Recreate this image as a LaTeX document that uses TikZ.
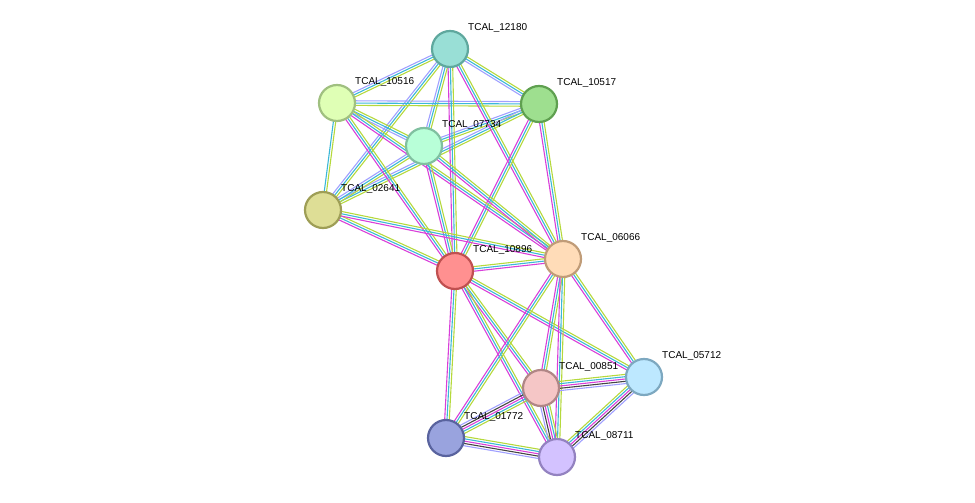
\documentclass[tikz,border=0pt]{standalone}
\usepackage{fontspec}
\setmainfont{Liberation Sans}
\usetikzlibrary{calc}
\definecolor{cmag}{HTML}{D93FD9}
\definecolor{ccyan}{HTML}{3CB8D8}
\definecolor{cyg}{HTML}{B5D93C}
\definecolor{clav}{HTML}{A0A0FF}
\definecolor{cblk}{HTML}{444444}
\newcommand\myedge[4]{%
  \foreach[count=\i] \c in {#4} {%
    \pgfmathsetmacro\o{(\i-(#3+1)/2)*2.3}
    \draw[\c,line width=1.1pt] ($(#1)!\o pt!90:(#2)$) -- ($(#2)!\o pt!-90:(#1)$);
  }}
\newcommand\prot[3]{%
  \definecolor{f#1}{HTML}{#2}\definecolor{d#1}{HTML}{#3}%
  \node[prot,fill=f#1,draw=d#1] (n#1) at (p#1) {};}
\begin{document}
\begin{tikzpicture}[x=1pt,y=-1pt,
  prot/.style={circle,minimum size=36pt,inner sep=0pt,line width=2.2pt},
  lab/.style={anchor=south west,font=\fontsize{10}{11}\selectfont,inner sep=0pt}]
\useasboundingbox (0,0) rectangle (975,503);
\coordinate (p12180) at (450,49);
\coordinate (p10517) at (539,104);
\coordinate (p10516) at (337,103);
\coordinate (p07734) at (424,146);
\coordinate (p02641) at (323,210);
\coordinate (p10896) at (455,271);
\coordinate (p06066) at (563,259);
\coordinate (p05712) at (644,377);
\coordinate (p00851) at (541,388);
\coordinate (p01772) at (446,438);
\coordinate (p08711) at (557,457);
% top cluster
\foreach \a/\b in {p12180/p10516,p12180/p10517,p12180/p07734,p12180/p02641,p10517/p10516,p10517/p07734,p10517/p02641,p10516/p07734,p07734/p02641}
  {\myedge{\a}{\b}{3}{clav,ccyan,cyg}}
\myedge{p10516}{p02641}{2}{ccyan,cyg}
% to 10896 / 06066
\foreach \a/\b in {p12180/p10896,p12180/p06066,p10517/p10896,p10517/p06066,p10516/p10896,p10516/p06066,p07734/p10896,p07734/p06066,p02641/p10896,p02641/p06066,p10896/p06066,p10896/p00851,p10896/p01772,p10896/p08711,p10896/p05712,p06066/p00851,p06066/p01772,p06066/p08711,p06066/p05712}
  {\myedge{\a}{\b}{3}{cmag,ccyan,cyg}}
% bottom cluster
\foreach \a/\b in {p00851/p01772,p00851/p08711,p00851/p05712,p01772/p08711,p08711/p05712}
  {\myedge{\a}{\b}{5}{clav,cblk,cmag,ccyan,cyg}}
% nodes
\prot{12180}{99DFD6}{5FA89E}
\prot{10517}{9EDF8F}{5FA050}
\prot{10516}{DFFFB5}{A0C080}
\prot{07734}{B8FFD8}{80C0A0}
\prot{02641}{DEDE96}{9E9E56}
\prot{10896}{FF9090}{C05050}
\prot{06066}{FFDCB8}{C09C78}
\prot{05712}{BDE8FF}{7DA8C0}
\prot{00851}{F5C6C6}{B08686}
\prot{01772}{99A3DE}{59639E}
\prot{08711}{D3C2FF}{9382C0}
% labels
\foreach \n/\t in {12180/TCAL\_12180,10517/TCAL\_10517,10516/TCAL\_10516,07734/TCAL\_07734,02641/TCAL\_02641,10896/TCAL\_10896,06066/TCAL\_06066,05712/TCAL\_05712,00851/TCAL\_00851,01772/TCAL\_01772,08711/TCAL\_08711}
  \node[lab] (l\n) at ($(p\n)+(18,-16)$) {\t};
\end{tikzpicture}
\end{document}
